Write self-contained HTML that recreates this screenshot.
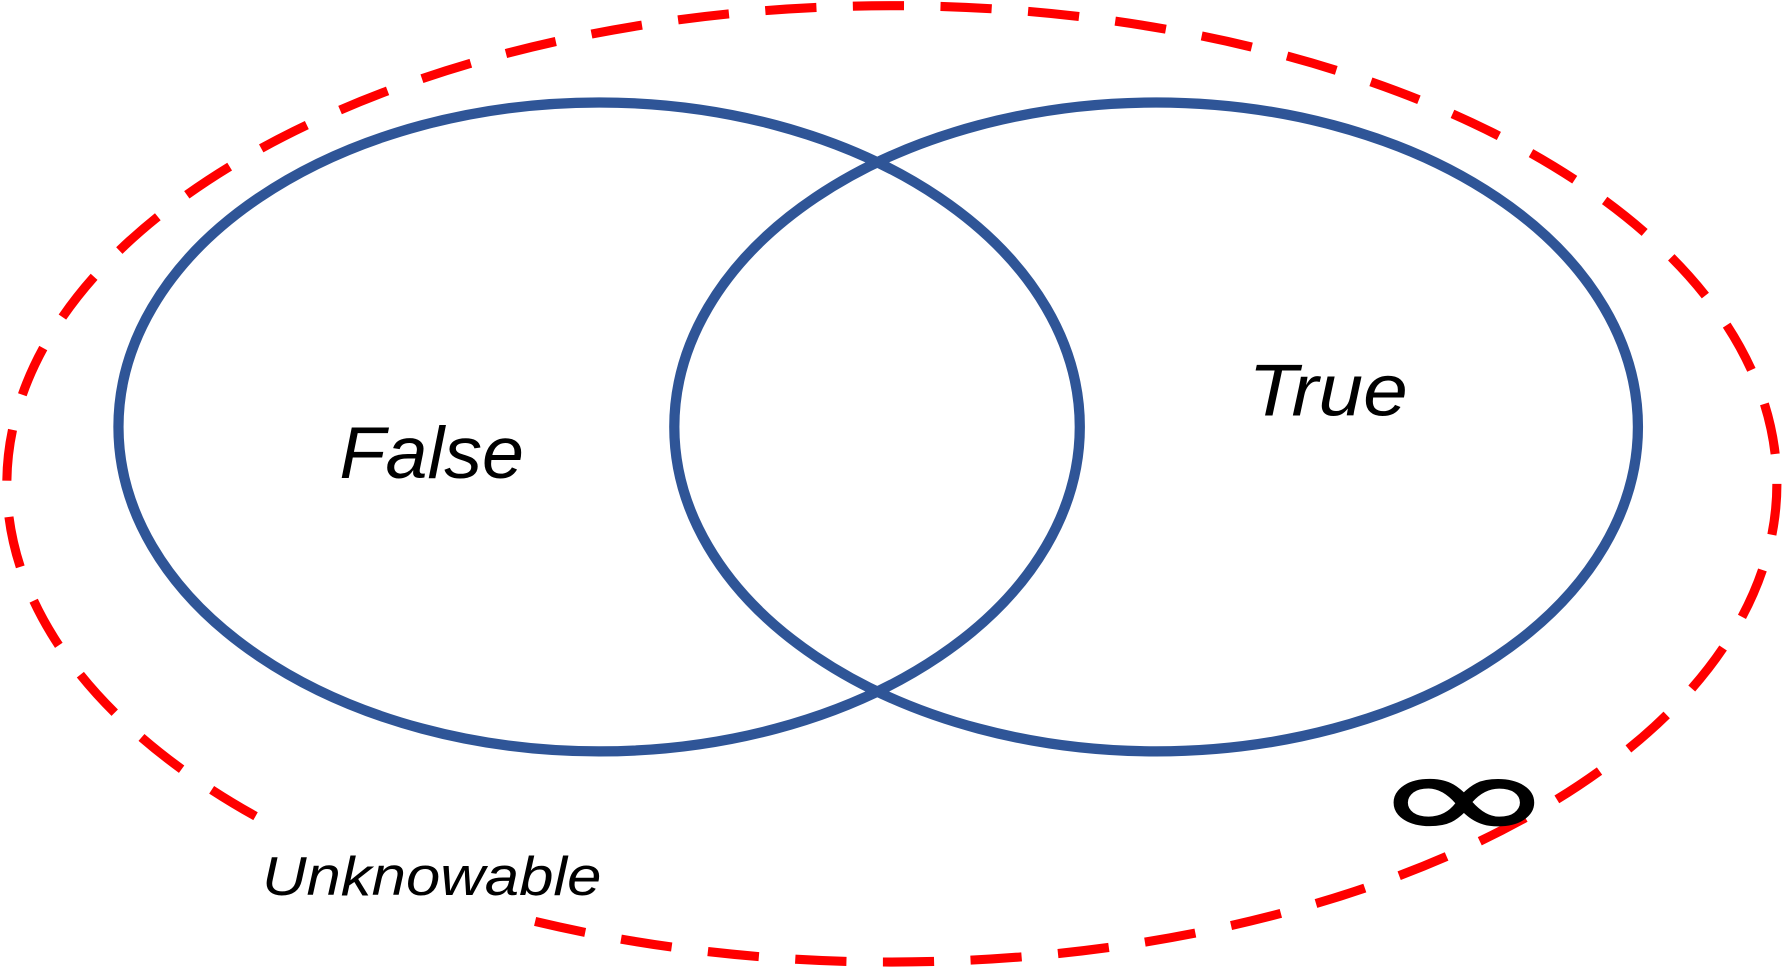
<!DOCTYPE html>
<html><head><style>html,body{margin:0;padding:0;background:#fff;overflow:hidden}</style></head>
<body>
<svg width="1786" height="970" viewBox="0 0 1568 852" preserveAspectRatio="none" xmlns="http://www.w3.org/2000/svg">
<rect width="1568" height="852" fill="#fff"/>
<ellipse cx="783" cy="425" rx="777" ry="420" fill="none" stroke="#ff0000" stroke-width="8" stroke-dasharray="45 32"/>
<rect x="250" y="726" width="196" height="84" fill="#fff"/>
<ellipse cx="526" cy="375" rx="422" ry="285" fill="none" stroke="#2F5597" stroke-width="9"/>
<ellipse cx="1015" cy="375" rx="423" ry="285" fill="none" stroke="#2F5597" stroke-width="9"/>
<g font-family="'Liberation Sans', sans-serif" font-style="italic" fill="#000">
<text x="298" y="420" font-size="64" textLength="162" lengthAdjust="spacingAndGlyphs">False</text>
<text x="1096" y="365" font-size="64" textLength="140" lengthAdjust="spacingAndGlyphs">True</text>
<text x="230" y="786" font-size="48" textLength="298" lengthAdjust="spacingAndGlyphs">Unknowable</text>
</g>
<text x="0" y="0" font-family="'DejaVu Sans', sans-serif" font-size="100" transform="translate(1204,737) scale(1.95,1.07)" fill="#000" stroke="#000" stroke-width="1.5">∞</text>
</svg>
</body></html>
